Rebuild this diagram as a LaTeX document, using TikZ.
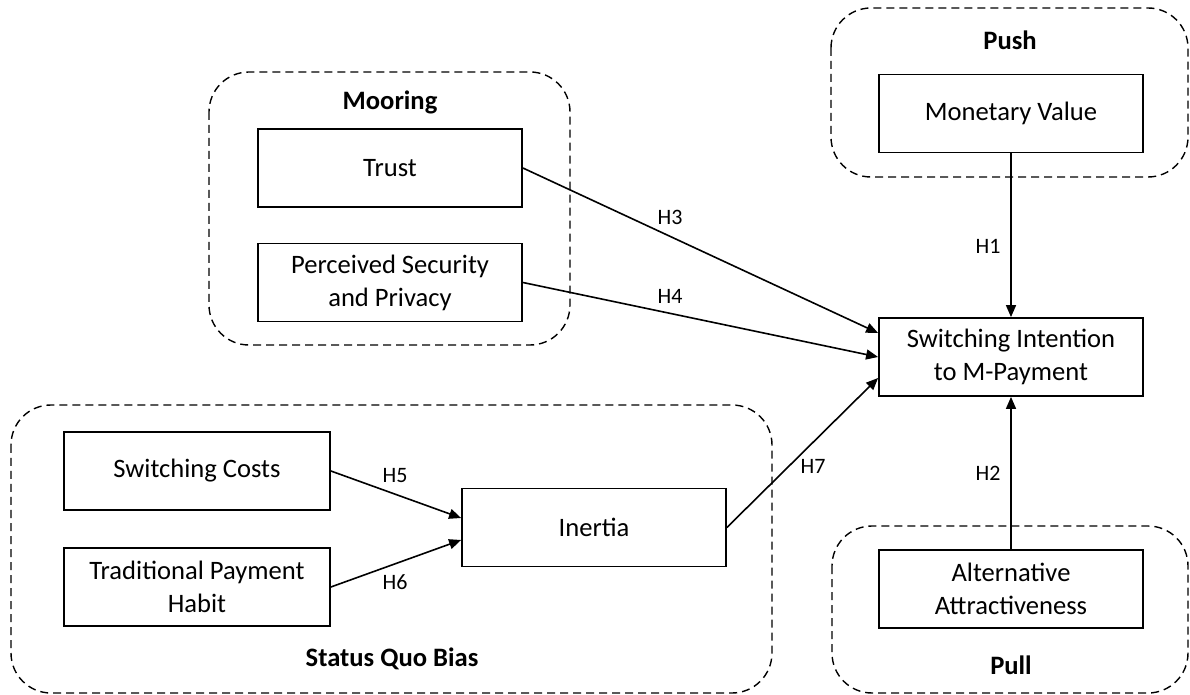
\documentclass[tikz,border=0pt]{standalone}
\usepackage{fontspec}
\setmainfont{Carlito}
\usetikzlibrary{arrows.meta}
\begin{document}
\begin{tikzpicture}[x=0.5pt,y=-0.5pt,
 box/.style={draw, line width=0.9pt, minimum width=132pt, minimum height=39pt, inner sep=0pt, align=center, font=\fontsize{13.3}{16.5}\selectfont},
 grp/.style={draw, dash pattern=on 4pt off 2.5pt, line width=0.7pt, rounded corners=20pt},
 ttl/.style={font=\bfseries\fontsize{13.3}{16}\selectfont},
 hyp/.style={font=\fontsize{11}{13}\selectfont},
 arr/.style={-{Triangle[length=6pt,width=5pt]}, line width=0.8pt}]
\useasboundingbox (0,0) rectangle (1190,695);
\fill[white] (0,0) rectangle (1190,695);
% groups
\draw[grp] (209,72) rectangle (570,345);
\draw[grp] (831,8) rectangle (1188,177);
\draw[grp] (11,405) rectangle (772,693);
\draw[grp] (832,526) rectangle (1188,693);
% titles
\node[ttl] (tmoor) at (390,102) {Mooring};
\node[ttl] (tpush) at (1010,40) {Push};
\node[ttl] (tsqb) at (392,659) {Status Quo Bias};
\node[ttl] (tpull) at (1011,665) {Pull};
% boxes
\node[box] (trust) at (390,168) {Trust};
\node[box] (psp) at (390,282.5) {Perceived Security\\and Privacy};
\node[box] (mon) at (1011,113.5) {Monetary Value};
\node[box] (si) at (1011,357) {Switching Intention\\to M-Payment};
\node[box] (alt) at (1011,589) {Alternative\\Attractiveness};
\node[box, minimum width=133pt] (sc) at (197,471) {Switching Costs};
\node[box, minimum width=133pt] (tph) at (197,587) {Traditional Payment\\Habit};
\node[box] (inr) at (594,527.5) {Inertia};
% arrows
\draw[arr] (mon.south) -- (si.north);
\draw[arr] (alt.north) -- (si.south);
\draw[arr] (trust.east) -- ([yshift=12pt]si.west);
\draw[arr] (psp.east) -- (si.west);
\draw[arr] (inr.east) -- ([yshift=-10.5pt]si.west);
\draw[arr] (sc.east) -- ([yshift=4.75pt]inr.west);
\draw[arr] (tph.east) -- ([yshift=-6.25pt]inr.west);
% labels
\node[hyp] (h1) at (988,246) {H1};
\node[hyp] (h2) at (988,473) {H2};
\node[hyp] (h3) at (670,217) {H3};
\node[hyp] (h4) at (670,296) {H4};
\node[hyp] (h5) at (395,476) {H5};
\node[hyp] (h6) at (395,582) {H6};
\node[hyp] (h7) at (813,466) {H7};
\end{tikzpicture}
\end{document}
